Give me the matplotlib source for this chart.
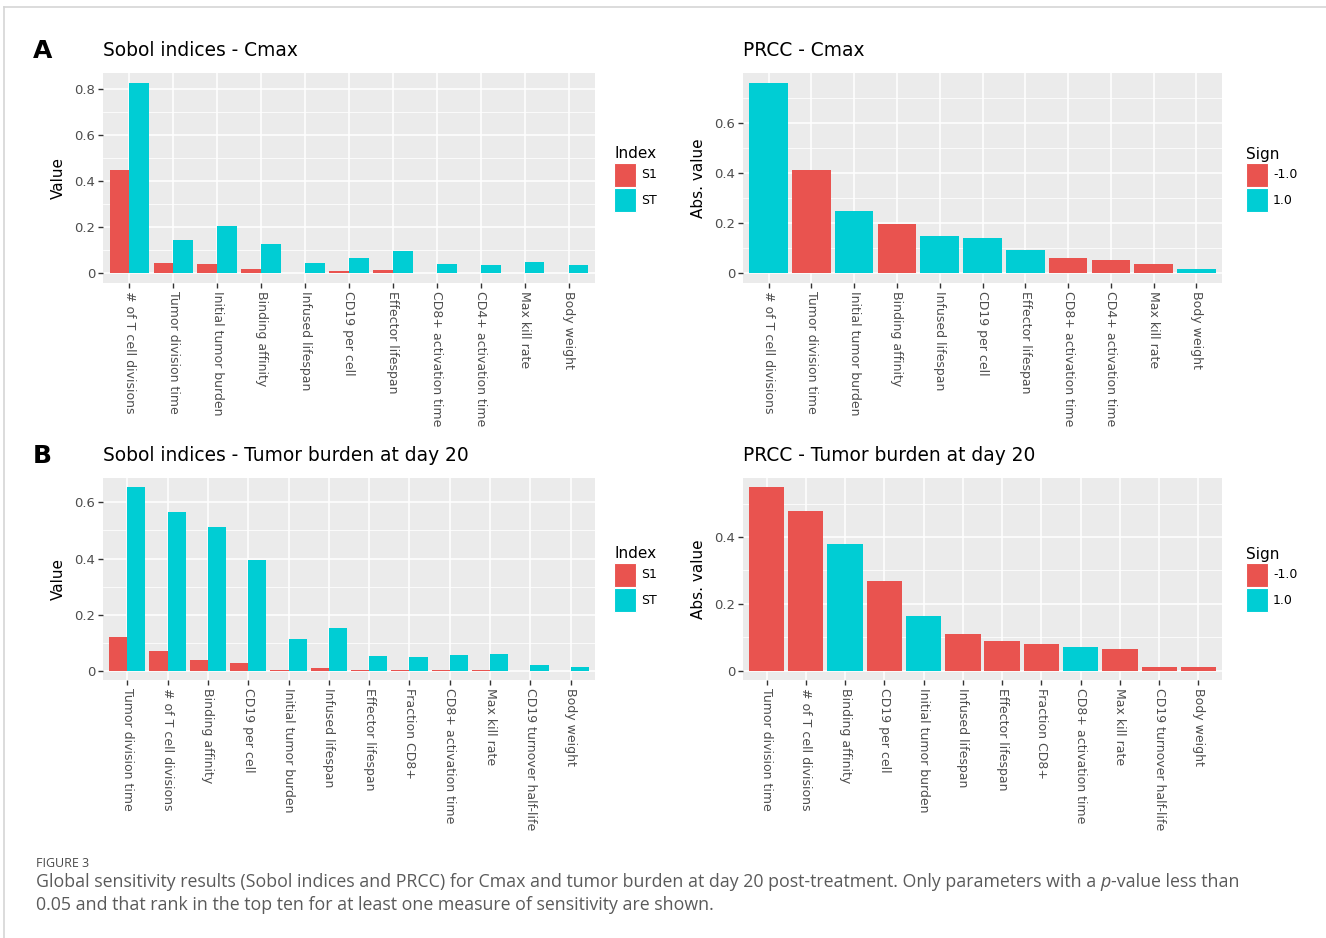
import matplotlib.pyplot as plt
from matplotlib.patches import Rectangle
from matplotlib.lines import Line2D
import numpy as np

RED = "#E9534F"
CYAN = "#00CDD4"
PANEL_BG = "#EBEBEB"

# Sobol indices - Cmax
cmax_params = ["# of T cell divisions", "Tumor division time", "Initial tumor burden",
               "Binding affinity", "Infused lifespan", "CD19 per cell", "Effector lifespan",
               "CD8+ activation time", "CD4+ activation time", "Max kill rate", "Body weight"]
cmax_s1 = [0.448, 0.047, 0.041, 0.019, 0.004, 0.009, 0.015, 0.001, 0.001, 0.004, 0.001]
cmax_st = [0.828, 0.147, 0.205, 0.128, 0.045, 0.067, 0.099, 0.041, 0.037, 0.048, 0.038]

# PRCC - Cmax (same parameter order)
cmax_prcc = [0.760, 0.410, 0.247, 0.198, 0.148, 0.143, 0.095, 0.060, 0.052, 0.036, 0.018]
cmax_sign = [1.0, -1.0, 1.0, -1.0, 1.0, 1.0, 1.0, -1.0, -1.0, -1.0, 1.0]

# Sobol indices - tumor burden at day 20
tb_params = ["Tumor division time", "# of T cell divisions", "Binding affinity", "CD19 per cell",
             "Initial tumor burden", "Infused lifespan", "Effector lifespan", "Fraction CD8+",
             "CD8+ activation time", "Max kill rate", "CD19 turnover half-life", "Body weight"]
tb_s1 = [0.121, 0.069, 0.038, 0.027, 0.002, 0.010, 0.004, 0.003, 0.004, 0.004, 0.0, 0.001]
tb_st = [0.654, 0.564, 0.513, 0.393, 0.115, 0.151, 0.054, 0.048, 0.058, 0.060, 0.019, 0.014]

# PRCC - tumor burden at day 20
tb_prcc = [0.549, 0.479, 0.380, 0.268, 0.164, 0.111, 0.089, 0.079, 0.071, 0.065, 0.012, 0.010]
tb_sign = [-1.0, -1.0, 1.0, -1.0, 1.0, -1.0, -1.0, -1.0, 1.0, -1.0, -1.0, -1.0]

W, H = 1326, 938
fig = plt.figure(figsize=(W / 100, H / 100), dpi=100)
fig.patch.set_facecolor("white")


def px_axes(x0, y0, x1, y1):
    return fig.add_axes([x0 / W, 1 - y1 / H, (x1 - x0) / W, (y1 - y0) / H])


def gg_style(ax, labels, ymax, yticks, ylabel):
    n = len(labels)
    ax.set_facecolor(PANEL_BG)
    for s in ax.spines.values():
        s.set_visible(False)
    ax.set_xlim(-0.6, n - 1 + 0.6)
    ax.set_ylim(-0.05 * ymax, 1.05 * ymax)
    ax.set_xticks(range(n))
    ax.set_xticklabels(labels, rotation=-90, fontsize=9, color="#4D4D4D")
    ax.set_yticks(yticks)
    ax.set_yticklabels(["0" if t == 0 else f"{t:.1f}" for t in yticks],
                       fontsize=9.5, color="#4D4D4D")
    minors = [t + (yticks[1] - yticks[0]) / 2 for t in yticks]
    ax.set_yticks([m for m in minors if m < 1.05 * ymax], minor=True)
    ax.tick_params(axis="both", which="major", length=3.5, width=1, color="#333333", pad=2)
    ax.tick_params(axis="y", which="minor", length=0)
    ax.grid(True, which="major", color="white", linewidth=1.1)
    ax.grid(True, which="minor", axis="y", color="white", linewidth=0.55)
    ax.set_axisbelow(True)
    ax.set_ylabel(ylabel, fontsize=11, color="black", labelpad=6)


def legend(x, y, title, entries):
    fig.text(x / W, 1 - y / H, title, fontsize=11, va="center", ha="left")
    for i, (lab, col) in enumerate(entries):
        top = y + 9 + i * 25
        fig.add_artist(Rectangle((x / W, 1 - (top + 24) / H), 22 / W, 24 / H,
                                 transform=fig.transFigure, facecolor=col,
                                 edgecolor="white", linewidth=0.8))
        fig.text((x + 27) / W, 1 - (top + 12) / H, lab, fontsize=9, va="center", ha="left")


def sobol(ax, labels, s1, st, title):
    x = np.arange(len(labels))
    ax.bar(x - 0.225, s1, width=0.45, color=RED, linewidth=0)
    ax.bar(x + 0.225, st, width=0.45, color=CYAN, linewidth=0)
    ymax = max(max(s1), max(st))
    yt = [0, 0.2, 0.4, 0.6, 0.8] if ymax > 0.7 else [0, 0.2, 0.4, 0.6]
    gg_style(ax, labels, ymax, yt, "Value")
    ax.set_title(title, loc="left", fontsize=13.4, pad=12, x=0)


def prcc(ax, labels, vals, signs, title):
    x = np.arange(len(labels))
    cols = [RED if s < 0 else CYAN for s in signs]
    ax.bar(x, vals, width=0.9, color=cols, linewidth=0)
    ymax = max(vals)
    yt = [0, 0.2, 0.4, 0.6] if ymax > 0.6 else [0, 0.2, 0.4]
    gg_style(ax, labels, ymax, yt, "Abs. value")
    ax.set_title(title, loc="left", fontsize=13.4, pad=12, x=0)


ax1 = px_axes(103, 73, 595, 283)
sobol(ax1, cmax_params, cmax_s1, cmax_st, "Sobol indices - Cmax")
ax2 = px_axes(743, 73, 1222, 283)
prcc(ax2, cmax_params, cmax_prcc, cmax_sign, "PRCC - Cmax")
ax3 = px_axes(103, 478, 595, 680)
sobol(ax3, tb_params, tb_s1, tb_st, "Sobol indices - Tumor burden at day 20")
ax4 = px_axes(743, 478, 1222, 680)
prcc(ax4, tb_params, tb_prcc, tb_sign, "PRCC - Tumor burden at day 20")

legend(614, 154, "Index", [("S1", RED), ("ST", CYAN)])
legend(1246, 154, "Sign", [("-1.0", RED), ("1.0", CYAN)])
legend(614, 554, "Index", [("S1", RED), ("ST", CYAN)])
legend(1246, 554, "Sign", [("-1.0", RED), ("1.0", CYAN)])

fig.text(33 / W, 1 - 51 / H, "A", fontsize=18, fontweight="bold", va="center")
fig.text(33 / W, 1 - 456 / H, "B", fontsize=18, fontweight="bold", va="center")

# frame lines around the figure block
fig.add_artist(Line2D([4 / W, 1], [1 - 7 / H, 1 - 7 / H], transform=fig.transFigure,
                      color="#D5D5D5", linewidth=1.2))
fig.add_artist(Line2D([4 / W, 4 / W], [0, 1 - 7 / H], transform=fig.transFigure,
                      color="#D5D5D5", linewidth=1.2))

# caption
cap = "#5A5A5A"
capsize = 12.8
fig.text(36 / W, 1 - 863 / H, "FIGURE 3", fontsize=9, color="#4A4A4A", family="Open Sans",
         va="center")
t1 = fig.text(36 / W, 1 - 882 / H,
              "Global sensitivity results (Sobol indices and PRCC) for Cmax and tumor burden at day 20 "
              "post-treatment. Only parameters with a ",
              fontsize=capsize, color=cap, family="Open Sans", va="center")
t2 = plt.annotate("p", xy=(1, 0), xycoords=t1, va="bottom", ha="left", fontsize=capsize,
                  color=cap, family="Open Sans", fontstyle="italic")
plt.annotate("-value less than", xy=(1, 0), xycoords=t2, va="bottom", ha="left",
             fontsize=capsize, color=cap, family="Open Sans")
fig.text(36 / W, 1 - 905 / H,
         "0.05 and that rank in the top ten for at least one measure of sensitivity are shown.",
         fontsize=capsize, color=cap, family="Open Sans", va="center")

fig.savefig("out.png", dpi=100)
